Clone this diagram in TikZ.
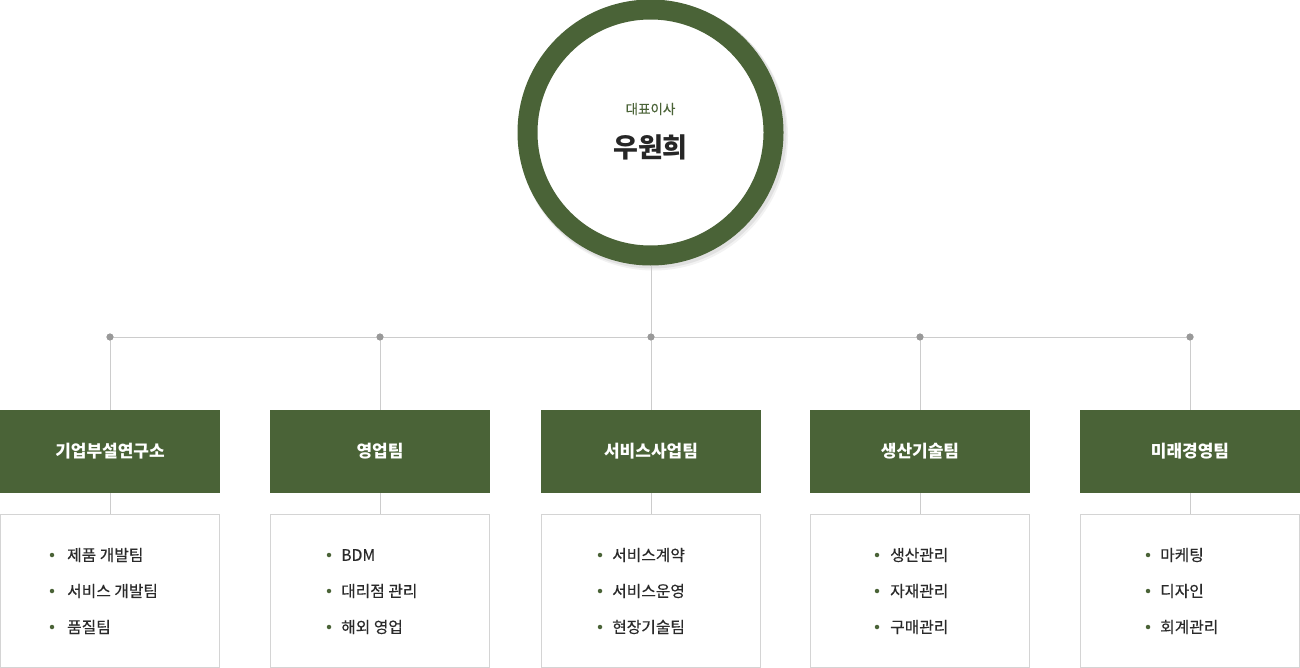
\documentclass[tikz,border=0pt]{standalone}
\usepackage{fontspec}
\setmainfont{Noto Sans CJK KR}
\newfontfamily\medfont[FakeBold=0.35]{Noto Sans CJK KR}
\definecolor{leaf}{HTML}{4A6337}
\definecolor{ink}{HTML}{2A2A2A}
\definecolor{rule}{HTML}{CCCCCC}
\definecolor{boxline}{HTML}{D4D4D4}
\definecolor{dotgray}{HTML}{999999}
\tikzset{
  conn/.style={draw=rule, line width=1pt},
  joint/.style={circle, fill=dotgray, inner sep=0pt, minimum size=7pt},
  deptbox/.style={fill=leaf, minimum width=220pt, minimum height=83pt, inner sep=0pt,
    text=white, font=\bfseries\fontsize{17}{20}\selectfont},
  listbox/.style={draw=boxline, line width=1pt, fill=white, minimum width=219pt, minimum height=153pt, inner sep=0pt},
  bul/.style={circle, fill=leaf, inner sep=0pt, minimum size=4.5pt},
  item/.style={anchor=west, inner sep=0pt, text=ink, font=\medfont\fontsize{15.8}{18}\selectfont}
}
\begin{document}
\begin{tikzpicture}[x=1pt, y=-1pt]
\useasboundingbox (0,0) rectangle (1300,668);
% CEO circle
\fill[black, opacity=0.07] (652.5,134.5) circle (134);
\fill[black, opacity=0.05] (653.5,136) circle (134.5);
\node[circle, draw=leaf, line width=20pt, fill=white, minimum size=246pt, inner sep=0pt] (ceo) at (650.5,132.5) {};
\node[text=leaf, font=\medfont\fontsize{13.5}{15}\selectfont, inner sep=0pt] (ceotitle) at (650.5,109) {대표이사};
\node[text=black!85, font=\bfseries\fontsize{27}{30}\selectfont, inner sep=0pt] (ceoname) at (650.5,147) {우원희};
% joints
\node[joint] (j1) at (110,337) {};
\node[joint] (j2) at (380,337) {};
\node[joint] (j3) at (651,337) {};
\node[joint] (j4) at (920,337) {};
\node[joint] (j5) at (1190,337) {};
% departments
\node[deptbox] (d1) at (110,451.5) {기업부설연구소};
\node[deptbox] (d2) at (380,451.5) {영업팀};
\node[deptbox] (d3) at (651,451.5) {서비스사업팀};
\node[deptbox] (d4) at (920,451.5) {생산기술팀};
\node[deptbox] (d5) at (1190,451.5) {미래경영팀};
% list boxes
\node[listbox] (l1) at (110,590.5) {};
\node[listbox] (l2) at (380,590.5) {};
\node[listbox] (l3) at (651,590.5) {};
\node[listbox] (l4) at (920,590.5) {};
\node[listbox] (l5) at (1190,590.5) {};
% connectors
\draw[conn] (j3.center |- ceo.south) -- (j3.center);
\draw[conn] (j1.center) -- (j5.center);
\foreach \i in {1,...,5} {
  \draw[conn] (j\i.center) -- (d\i.north);
  \draw[conn] (d\i.south) -- (l\i.north);
}
\foreach \i in {1,...,5} { \node[joint] at (j\i) {}; }
% items box 1
\node[bul] (b11) at (52,555) {}; \node[item] (t11) at (67,555) {제품 개발팀};
\node[bul] (b12) at (52,591) {}; \node[item] (t12) at (67,591) {서비스 개발팀};
\node[bul] (b13) at (52,627) {}; \node[item] (t13) at (67,627) {품질팀};
% box 2
\node[bul] (b21) at (329,555) {}; \node[item] (t21) at (341,555) {BDM};
\node[bul] (b22) at (329,591) {}; \node[item] (t22) at (341,591) {대리점 관리};
\node[bul] (b23) at (329,627) {}; \node[item] (t23) at (341,627) {해외 영업};
% box 3
\node[bul] (b31) at (600,555) {}; \node[item] (t31) at (612,555) {서비스계약};
\node[bul] (b32) at (600,591) {}; \node[item] (t32) at (612,591) {서비스운영};
\node[bul] (b33) at (600,627) {}; \node[item] (t33) at (612,627) {현장기술팀};
% box 4
\node[bul] (b41) at (877,555) {}; \node[item] (t41) at (890,555) {생산관리};
\node[bul] (b42) at (877,591) {}; \node[item] (t42) at (890,591) {자재관리};
\node[bul] (b43) at (877,627) {}; \node[item] (t43) at (890,627) {구매관리};
% box 5
\node[bul] (b51) at (1148,555) {}; \node[item] (t51) at (1160,555) {마케팅};
\node[bul] (b52) at (1148,591) {}; \node[item] (t52) at (1160,591) {디자인};
\node[bul] (b53) at (1148,627) {}; \node[item] (t53) at (1160,627) {회계관리};
\end{tikzpicture}
\end{document}
